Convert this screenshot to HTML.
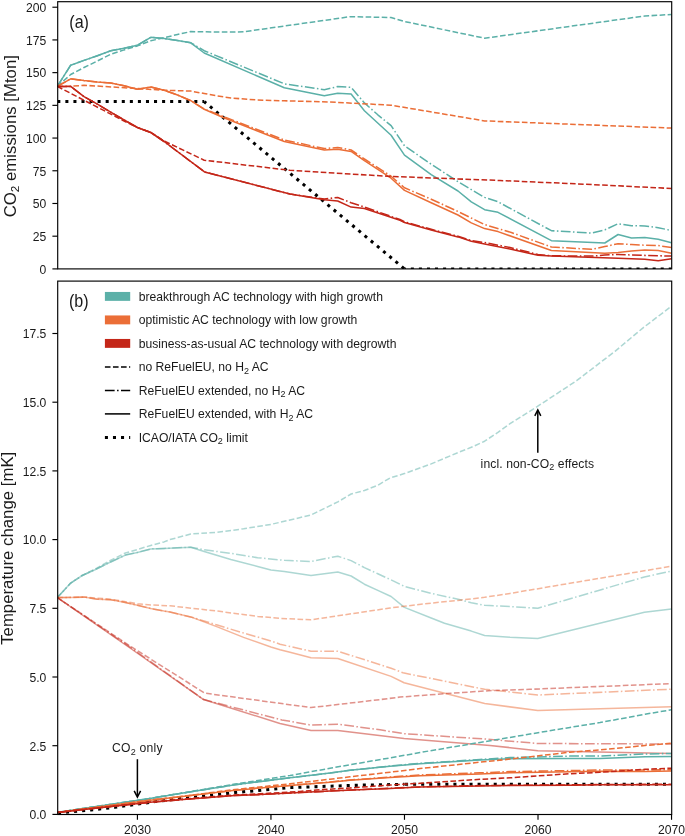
<!DOCTYPE html>
<html><head><meta charset="utf-8"><title>Figure</title>
<style>
html,body{margin:0;padding:0;background:#fff;width:685px;height:836px;overflow:hidden}
svg{display:block;will-change:transform}
text{font-family:"Liberation Sans",sans-serif;fill:#1a1a1a}
</style></head><body>
<svg width="685" height="836" viewBox="0 0 685 836">
<defs>
<clipPath id="ca"><rect x="57.7" y="1.7" width="614.0" height="267.2"/></clipPath>
<clipPath id="cb"><rect x="57.7" y="281.1" width="614.0" height="533.4"/></clipPath>
</defs>
<rect width="685" height="836" fill="#fff"/>
<g fill="none" stroke-linejoin="round">
<g clip-path="url(#ca)">
<polyline points="57.3,101.6 204.2,101.6" stroke="#000" stroke-width="3.04" stroke-dasharray="3.04 5.02"/>
<polyline points="204.2,101.6 404.5,268.9" stroke="#000" stroke-width="3.04" stroke-dasharray="3.04 5.02" stroke-dashoffset="0.5"/>
<polyline points="404.5,268.9 671.5,268.9" stroke="#000" stroke-width="3.04" stroke-dasharray="3.04 5.02" stroke-dashoffset="1.73"/>
<polyline points="57.3,86.4 70.7,74.5 84.0,67.5 97.4,61.0 110.7,54.3 124.1,49.9 137.4,45.9 150.8,40.8 164.1,37.7 177.5,34.5 190.8,31.6 204.2,31.8 217.5,32.0 230.9,32.1 244.2,31.7 350.1,16.7 391.0,17.5 404.5,21.5 484.6,38.2 644.8,16.0 671.5,14.5" stroke="#5BB0A8" stroke-width="1.52" stroke-dasharray="5.62 2.43"/>
<polyline points="57.3,86.4 70.7,65.2 84.0,60.4 97.4,55.7 110.7,50.8 124.1,48.2 137.4,45.2 150.8,37.3 164.1,38.5 177.5,40.5 190.8,42.8 204.2,50.7 284.3,83.8 324.3,89.7 337.7,86.6 351.1,87.4 364.4,102.9 377.8,114.8 391.1,125.6 404.5,145.8 431.2,164.2 458.0,181.7 484.6,197.4 498.0,201.8 551.4,230.7 591.4,233.1 604.8,229.9 618.1,223.7 631.5,225.8 644.8,225.9 658.2,227.7 671.5,230.5" stroke="#5BB0A8" stroke-width="1.52" stroke-dasharray="9.73 2.43 1.52 2.43"/>
<polyline points="57.3,86.4 70.7,65.2 84.0,60.4 97.4,55.7 110.7,50.8 124.1,48.2 137.4,45.2 150.8,37.3 164.1,38.5 177.5,40.5 190.8,42.8 204.2,53.0 284.3,87.8 324.3,95.8 337.7,93.2 351.1,94.1 364.4,110.7 391.1,135.3 404.5,155.1 431.2,174.7 458.0,191.0 471.3,201.8 484.6,209.7 498.0,212.3 551.4,240.7 604.8,243.0 618.1,234.5 631.5,237.9 644.8,237.4 658.2,239.3 671.5,242.7" stroke="#5BB0A8" stroke-width="1.52"/>
<polyline points="57.3,86.4 70.7,86.2 84.0,85.3 137.4,88.5 164.1,90.2 190.8,91.1 204.2,93.5 217.5,96.0 230.9,98.0 257.6,100.0 284.3,100.8 330.0,102.0 391.1,105.2 484.6,120.9 671.5,128.1" stroke="#EB6E37" stroke-width="1.52" stroke-dasharray="5.62 2.43"/>
<polyline points="57.3,86.4 70.7,78.8 84.0,80.6 97.4,82.0 110.7,82.9 124.1,85.8 137.4,89.3 150.8,87.1 164.1,90.2 177.5,95.0 190.8,100.6 204.2,109.0 222.6,116.2 284.3,140.0 324.3,148.6 337.7,147.5 351.1,150.0 364.4,159.0 377.8,167.6 391.1,176.2 404.5,187.8 431.2,199.2 458.0,211.5 484.6,224.6 511.3,232.5 551.4,247.0 591.4,249.3 604.8,246.6 618.1,243.7 631.5,244.5 644.8,245.2 658.2,245.6 671.5,247.4" stroke="#EB6E37" stroke-width="1.52" stroke-dasharray="9.73 2.43 1.52 2.43"/>
<polyline points="57.3,86.4 70.7,78.8 84.0,80.6 97.4,82.0 110.7,82.9 124.1,85.8 137.4,89.3 150.8,87.1 164.1,90.2 177.5,95.0 190.8,100.6 204.2,109.3 222.6,117.2 284.3,141.5 324.3,150.1 337.7,149.3 351.1,151.4 364.4,160.7 377.8,169.4 391.1,178.2 404.5,190.4 431.2,202.7 458.0,215.0 471.3,222.9 484.6,228.6 498.0,231.6 551.4,250.5 604.8,253.2 618.1,252.5 631.5,251.0 644.8,250.0 658.2,250.6 671.5,253.2" stroke="#EB6E37" stroke-width="1.52"/>
<polyline points="57.3,86.4 124.1,121.0 137.4,127.5 150.8,132.5 164.1,141.0 204.2,160.2 290.0,170.3 390.0,176.4 500.0,180.5 585.0,184.2 671.5,188.5" stroke="#C42618" stroke-width="1.52" stroke-dasharray="5.62 2.43"/>
<polyline points="57.3,86.4 70.7,86.4 84.0,96.7 97.4,104.2 110.7,112.1 124.1,120.0 137.4,127.5 150.8,132.5 164.1,141.5 204.5,171.9 290.0,194.1 324.3,199.0 337.7,197.5 351.1,202.7 364.4,207.1 400.0,219.5 404.5,221.8 431.2,229.3 458.0,236.3 471.3,240.6 484.6,242.5 510.0,247.5 538.0,254.5 551.4,255.8 591.4,256.1 604.8,255.1 618.1,254.4 631.5,255.0 658.2,255.8 671.5,256.1" stroke="#C42618" stroke-width="1.52" stroke-dasharray="9.73 2.43 1.52 2.43"/>
<polyline points="57.3,86.4 70.7,86.4 84.0,96.7 97.4,104.2 110.7,112.1 124.1,120.0 137.4,127.5 150.8,132.5 164.1,141.5 204.5,171.9 290.0,194.1 324.3,199.7 337.7,201.0 351.1,207.1 364.4,208.5 400.0,220.2 404.5,222.5 431.2,229.9 458.0,236.9 471.3,241.2 484.6,243.9 510.0,249.1 538.0,255.3 551.4,256.1 618.1,258.3 644.8,259.3 658.2,260.8 671.5,258.8" stroke="#C42618" stroke-width="1.52"/>
</g>
<g clip-path="url(#cb)">
<polyline points="57.3,813.0 91.0,810.0 115.0,807.3 155.0,801.6 180.0,798.6 235.0,792.5 290.0,787.6 330.0,786.2 360.0,785.2 404.5,784.3" stroke="#000" stroke-width="3.04" stroke-dasharray="3.04 5.02" stroke-dashoffset="-0.7"/>
<polyline points="404.5,784.3 671.5,784.3" stroke="#000" stroke-width="3.04" stroke-dasharray="3.04 5.02" stroke-dashoffset="7.52"/>
<polyline points="57.3,597.6 70.7,583.1 82.2,575.5 95.0,569.2 109.0,561.2 125.4,553.0 137.4,549.5 150.8,545.4 164.1,541.9 170.0,539.6 190.7,534.0 217.3,532.3 243.6,528.8 270.9,524.4 290.0,520.0 311.0,515.0 337.8,501.9 351.1,494.0 364.4,490.5 377.8,485.3 390.0,478.0 404.4,473.6 431.2,463.9 458.0,452.6 471.3,447.3 484.6,441.2 497.9,432.4 510.0,423.7 537.8,406.2 576.6,380.7 615.0,351.3 643.1,327.8 671.5,306.2" stroke="#5BB0A8" stroke-width="1.52" stroke-dasharray="5.62 2.43" stroke-opacity="0.5"/>
<polyline points="57.3,597.6 70.7,583.1 82.2,575.5 95.0,569.7 109.0,562.7 125.4,555.1 137.4,552.4 150.8,548.9 164.1,548.4 190.7,547.2 204.2,549.8 230.8,553.3 257.6,557.7 284.3,560.3 311.0,561.5 337.8,556.2 351.1,560.6 364.4,567.6 377.8,573.7 391.1,579.9 404.4,586.4 431.2,593.4 458.0,599.2 471.3,602.7 484.6,605.3 510.0,606.6 537.8,608.2 644.4,577.0 671.5,571.0" stroke="#5BB0A8" stroke-width="1.52" stroke-dasharray="9.73 2.43 1.52 2.43" stroke-opacity="0.5"/>
<polyline points="57.3,597.6 70.7,583.1 82.2,575.5 95.0,569.7 109.0,562.7 125.4,555.1 137.4,552.4 150.8,548.9 164.1,548.4 190.7,547.2 204.2,551.5 230.8,559.4 257.6,566.4 270.9,569.9 284.3,571.5 311.0,575.5 337.8,572.0 351.1,576.0 364.4,584.2 377.8,590.4 391.1,596.5 404.4,607.4 431.2,618.0 444.5,623.2 471.3,631.1 484.6,635.5 510.0,637.2 537.8,638.4 644.4,612.3 671.5,609.0" stroke="#5BB0A8" stroke-width="1.52" stroke-opacity="0.5"/>
<polyline points="57.3,597.6 84.0,597.1 110.7,599.2 137.4,603.7 150.8,605.0 170.0,605.8 217.3,611.1 257.6,616.4 280.0,618.4 311.0,619.8 337.8,615.8 390.0,608.0 404.4,606.2 431.2,603.1 458.0,600.4 484.6,597.3 510.0,593.4 671.5,566.2" stroke="#EB6E37" stroke-width="1.52" stroke-dasharray="5.62 2.43" stroke-opacity="0.5"/>
<polyline points="57.3,597.6 70.7,597.6 84.0,597.1 97.4,599.2 110.7,599.7 124.1,602.3 137.4,605.3 150.8,608.5 164.1,611.1 170.0,612.0 190.7,616.9 217.3,625.1 243.6,633.0 270.9,640.9 280.0,644.2 311.0,651.2 337.8,651.2 391.1,668.2 403.0,672.8 484.7,689.3 537.8,695.0 671.5,689.2" stroke="#EB6E37" stroke-width="1.52" stroke-dasharray="9.73 2.43 1.52 2.43" stroke-opacity="0.5"/>
<polyline points="57.3,597.6 70.7,597.6 84.0,597.1 97.4,599.2 110.7,599.7 124.1,602.3 137.4,605.3 150.8,608.5 164.1,611.1 170.0,612.0 190.7,616.9 217.3,626.9 243.6,637.4 270.9,647.0 280.0,649.8 290.0,652.3 311.0,657.7 337.8,658.5 391.1,676.4 404.1,682.7 445.7,693.6 484.7,703.5 537.8,710.6 671.5,706.8" stroke="#EB6E37" stroke-width="1.52" stroke-opacity="0.5"/>
<polyline points="57.3,597.6 130.0,646.0 204.7,693.1 311.0,707.6 380.0,699.6 400.0,697.1 445.7,693.6 493.9,690.4 530.0,689.3 671.5,683.6" stroke="#C42618" stroke-width="1.52" stroke-dasharray="5.62 2.43" stroke-opacity="0.5"/>
<polyline points="57.3,597.6 130.0,647.0 203.6,699.6 281.8,719.9 311.0,725.1 337.8,724.2 380.0,729.8 404.1,733.7 484.7,739.0 537.8,743.5 671.5,744.0" stroke="#C42618" stroke-width="1.52" stroke-dasharray="9.73 2.43 1.52 2.43" stroke-opacity="0.5"/>
<polyline points="57.3,597.6 130.0,648.0 203.6,699.6 280.0,723.4 290.0,725.8 311.0,730.4 337.8,730.4 404.1,738.5 490.0,745.4 537.8,750.7 671.5,753.5" stroke="#C42618" stroke-width="1.52" stroke-opacity="0.5"/>
<polyline points="57.3,812.4 85.0,808.1 115.0,803.7 150.0,798.4 180.0,793.4 235.0,784.1 290.0,775.5 330.0,768.3 350.0,764.7 390.0,757.9 420.0,752.5 480.0,742.4 510.0,737.4 570.0,727.4 600.0,722.6 645.0,714.2 671.5,709.8" stroke="#5BB0A8" stroke-width="1.52" stroke-dasharray="5.62 2.43"/>
<polyline points="57.3,812.4 85.0,808.2 115.0,803.8 150.0,798.4 180.0,793.4 235.0,784.8 288.0,778.0 330.0,773.1 350.0,770.3 390.0,766.0 420.0,763.3 480.0,759.5 510.0,757.6 570.0,756.1 600.0,756.1 645.0,754.0 671.5,753.4" stroke="#5BB0A8" stroke-width="1.52" stroke-dasharray="9.73 2.43 1.52 2.43"/>
<polyline points="57.3,812.4 85.0,808.2 115.0,803.8 150.0,798.4 180.0,793.4 235.0,784.8 288.0,778.0 330.0,773.1 350.0,770.3 390.0,766.2 420.0,763.8 480.0,759.9 510.0,758.8 570.0,758.5 600.0,758.4 645.0,756.8 671.5,756.5" stroke="#5BB0A8" stroke-width="1.52"/>
<polyline points="57.3,812.4 150.0,800.1 180.0,796.6 235.0,789.5 290.0,783.8 330.0,779.2 350.0,776.8 390.0,772.2 420.0,768.6 480.0,762.2 510.0,759.1 570.0,752.2 600.0,749.9 645.0,745.5 671.5,743.2" stroke="#EB6E37" stroke-width="1.52" stroke-dasharray="5.62 2.43"/>
<polyline points="57.3,812.4 150.0,800.3 180.0,796.8 235.0,790.2 290.0,785.4 330.0,782.0 350.0,780.0 390.0,777.0 420.0,775.0 480.0,772.8 510.0,771.6 570.0,770.6 600.0,770.0 645.0,770.0 671.5,769.8" stroke="#EB6E37" stroke-width="1.52" stroke-dasharray="9.73 2.43 1.52 2.43"/>
<polyline points="57.3,812.4 150.0,800.3 180.0,796.8 235.0,790.2 290.0,785.5 330.0,782.2 350.0,780.3 390.0,777.6 420.0,775.8 480.0,773.9 510.0,772.7 570.0,771.8 600.0,771.2 645.0,771.4 671.5,771.1" stroke="#EB6E37" stroke-width="1.52"/>
<polyline points="57.3,812.4 150.0,802.1 180.0,799.3 235.0,795.0 260.0,793.8 300.0,791.4 320.0,789.7 350.0,788.0 390.0,785.0 420.0,783.3 480.0,779.3 510.0,777.8 570.0,773.7 600.0,772.3 645.0,769.3 671.5,768.2" stroke="#C42618" stroke-width="1.52" stroke-dasharray="5.62 2.43"/>
<polyline points="57.3,812.4 150.0,802.3 180.0,799.8 235.0,795.4 260.0,794.6 300.0,792.6 335.0,790.8 390.0,788.3 420.0,786.9 480.0,785.6 510.0,785.3 570.0,784.9 600.0,784.5 671.5,784.3" stroke="#C42618" stroke-width="1.52" stroke-dasharray="9.73 2.43 1.52 2.43"/>
<polyline points="57.3,812.4 150.0,802.3 180.0,799.8 235.0,795.4 260.0,794.6 300.0,792.6 335.0,790.8 390.0,788.4 420.0,787.1 480.0,785.9 510.0,785.6 570.0,785.2 600.0,784.8 671.5,784.7" stroke="#C42618" stroke-width="1.52"/>
</g>
</g>
<rect x="57.7" y="1.7" width="614.0" height="267.2" fill="none" stroke="#000" stroke-width="1.15"/>
<rect x="57.7" y="281.1" width="614.0" height="533.4" fill="none" stroke="#000" stroke-width="1.15"/>
<line x1="52.400000000000006" y1="268.90" x2="57.7" y2="268.90" stroke="#000" stroke-width="1.15"/>
<line x1="52.400000000000006" y1="236.19" x2="57.7" y2="236.19" stroke="#000" stroke-width="1.15"/>
<line x1="52.400000000000006" y1="203.48" x2="57.7" y2="203.48" stroke="#000" stroke-width="1.15"/>
<line x1="52.400000000000006" y1="170.77" x2="57.7" y2="170.77" stroke="#000" stroke-width="1.15"/>
<line x1="52.400000000000006" y1="138.06" x2="57.7" y2="138.06" stroke="#000" stroke-width="1.15"/>
<line x1="52.400000000000006" y1="105.35" x2="57.7" y2="105.35" stroke="#000" stroke-width="1.15"/>
<line x1="52.400000000000006" y1="72.64" x2="57.7" y2="72.64" stroke="#000" stroke-width="1.15"/>
<line x1="52.400000000000006" y1="39.93" x2="57.7" y2="39.93" stroke="#000" stroke-width="1.15"/>
<line x1="52.400000000000006" y1="7.22" x2="57.7" y2="7.22" stroke="#000" stroke-width="1.15"/>
<line x1="52.400000000000006" y1="814.40" x2="57.7" y2="814.40" stroke="#000" stroke-width="1.15"/>
<line x1="52.400000000000006" y1="745.70" x2="57.7" y2="745.70" stroke="#000" stroke-width="1.15"/>
<line x1="52.400000000000006" y1="677.00" x2="57.7" y2="677.00" stroke="#000" stroke-width="1.15"/>
<line x1="52.400000000000006" y1="608.30" x2="57.7" y2="608.30" stroke="#000" stroke-width="1.15"/>
<line x1="52.400000000000006" y1="539.60" x2="57.7" y2="539.60" stroke="#000" stroke-width="1.15"/>
<line x1="52.400000000000006" y1="470.90" x2="57.7" y2="470.90" stroke="#000" stroke-width="1.15"/>
<line x1="52.400000000000006" y1="402.20" x2="57.7" y2="402.20" stroke="#000" stroke-width="1.15"/>
<line x1="52.400000000000006" y1="333.50" x2="57.7" y2="333.50" stroke="#000" stroke-width="1.15"/>
<line x1="137.42" y1="814.5" x2="137.42" y2="819.8" stroke="#000" stroke-width="1.15"/>
<line x1="270.95" y1="814.5" x2="270.95" y2="819.8" stroke="#000" stroke-width="1.15"/>
<line x1="404.48" y1="814.5" x2="404.48" y2="819.8" stroke="#000" stroke-width="1.15"/>
<line x1="538.01" y1="814.5" x2="538.01" y2="819.8" stroke="#000" stroke-width="1.15"/>
<line x1="671.54" y1="814.5" x2="671.54" y2="819.8" stroke="#000" stroke-width="1.15"/>
<rect x="104.9" y="291.95" width="25.3" height="8.9" fill="#5BB0A8"/>
<rect x="104.9" y="315.45" width="25.3" height="8.9" fill="#EB6E37"/>
<rect x="104.9" y="338.95" width="25.3" height="8.9" fill="#C42618"/>
<line x1="104.9" y1="366.90" x2="130.2" y2="366.90" stroke="#000" stroke-width="1.52" stroke-dasharray="5.62 2.43"/>
<line x1="104.9" y1="390.40" x2="130.2" y2="390.40" stroke="#000" stroke-width="1.52" stroke-dasharray="9.73 2.43 1.52 2.43"/>
<line x1="104.9" y1="413.90" x2="130.2" y2="413.90" stroke="#000" stroke-width="1.52"/>
<line x1="104.9" y1="437.40" x2="130.2" y2="437.40" stroke="#000" stroke-width="3.04" stroke-dasharray="3.04 5.02"/>
<line x1="137.4" y1="759.2" x2="137.4" y2="796.2" stroke="#000" stroke-width="1.5"/>
<polyline points="134.2,790.8 137.4,797.0 140.6,790.8" fill="none" stroke="#000" stroke-width="1.5" stroke-linejoin="miter"/>
<line x1="537.8" y1="452.8" x2="537.8" y2="410.6" stroke="#000" stroke-width="1.5"/>
<polyline points="534.8,415.8 537.8,409.9 540.8,415.8" fill="none" stroke="#000" stroke-width="1.5" stroke-linejoin="miter"/>
<text x="46.3" y="273.75" text-anchor="end" font-size="12.15">0</text>
<text x="46.3" y="241.04" text-anchor="end" font-size="12.15">25</text>
<text x="46.3" y="208.33" text-anchor="end" font-size="12.15">50</text>
<text x="46.3" y="175.62" text-anchor="end" font-size="12.15">75</text>
<text x="46.3" y="142.91" text-anchor="end" font-size="12.15">100</text>
<text x="46.3" y="110.20" text-anchor="end" font-size="12.15">125</text>
<text x="46.3" y="77.49" text-anchor="end" font-size="12.15">150</text>
<text x="46.3" y="44.78" text-anchor="end" font-size="12.15">175</text>
<text x="46.3" y="12.07" text-anchor="end" font-size="12.15">200</text>
<text x="46.3" y="819.25" text-anchor="end" font-size="12.15">0.0</text>
<text x="46.3" y="750.55" text-anchor="end" font-size="12.15">2.5</text>
<text x="46.3" y="681.85" text-anchor="end" font-size="12.15">5.0</text>
<text x="46.3" y="613.15" text-anchor="end" font-size="12.15">7.5</text>
<text x="46.3" y="544.45" text-anchor="end" font-size="12.15">10.0</text>
<text x="46.3" y="475.75" text-anchor="end" font-size="12.15">12.5</text>
<text x="46.3" y="407.05" text-anchor="end" font-size="12.15">15.0</text>
<text x="46.3" y="338.35" text-anchor="end" font-size="12.15">17.5</text>
<text x="137.42" y="834.0" text-anchor="middle" font-size="12.15">2030</text>
<text x="270.95" y="834.0" text-anchor="middle" font-size="12.15">2040</text>
<text x="404.48" y="834.0" text-anchor="middle" font-size="12.15">2050</text>
<text x="538.01" y="834.0" text-anchor="middle" font-size="12.15">2060</text>
<text x="671.54" y="834.0" text-anchor="middle" font-size="12.15">2070</text>
<text transform="translate(69.3,28.1) scale(0.915,1)" font-size="17.6">(a)</text>
<text transform="translate(68.9,307.2) scale(0.915,1)" font-size="17.6">(b)</text>
<text transform="translate(15.8,136.2) rotate(-90)" text-anchor="middle" font-size="16.8">CO<tspan font-size="11.76" dy="3">2</tspan><tspan dy="-3"> emissions [Mton]</tspan></text>
<text transform="translate(12.9,548.3) rotate(-90)" text-anchor="middle" font-size="16.8">Temperature change [mK]</text>
<text x="138.7" y="300.60" font-size="12.15">breakthrough AC technology with high growth</text>
<text x="138.7" y="324.10" font-size="12.15">optimistic AC technology with low growth</text>
<text x="138.7" y="347.60" font-size="12.15">business-as-usual AC technology with degrowth</text>
<text x="138.7" y="371.10" font-size="12.15">no ReFuelEU, no H<tspan font-size="9.0" dy="2.7">2</tspan><tspan dy="-2.7"> AC</tspan></text>
<text x="138.7" y="394.60" font-size="12.15">ReFuelEU extended, no H<tspan font-size="9.0" dy="2.7">2</tspan><tspan dy="-2.7"> AC</tspan></text>
<text x="138.7" y="418.10" font-size="12.15">ReFuelEU extended, with H<tspan font-size="9.0" dy="2.7">2</tspan><tspan dy="-2.7"> AC</tspan></text>
<text x="138.7" y="441.60" font-size="12.15">ICAO/IATA CO<tspan font-size="9.0" dy="2.7">2</tspan><tspan dy="-2.7"> limit</tspan></text>
<text x="112.0" y="752.0" font-size="12.15" letter-spacing="0.25">CO<tspan font-size="9.0" dy="2.7">2</tspan><tspan dy="-2.7"> only</tspan></text>
<text x="480.6" y="467.6" font-size="12.15" letter-spacing="0.1">incl. non-CO<tspan font-size="9.0" dy="2.7">2</tspan><tspan dy="-2.7"> effects</tspan></text>
</svg>
</body></html>
